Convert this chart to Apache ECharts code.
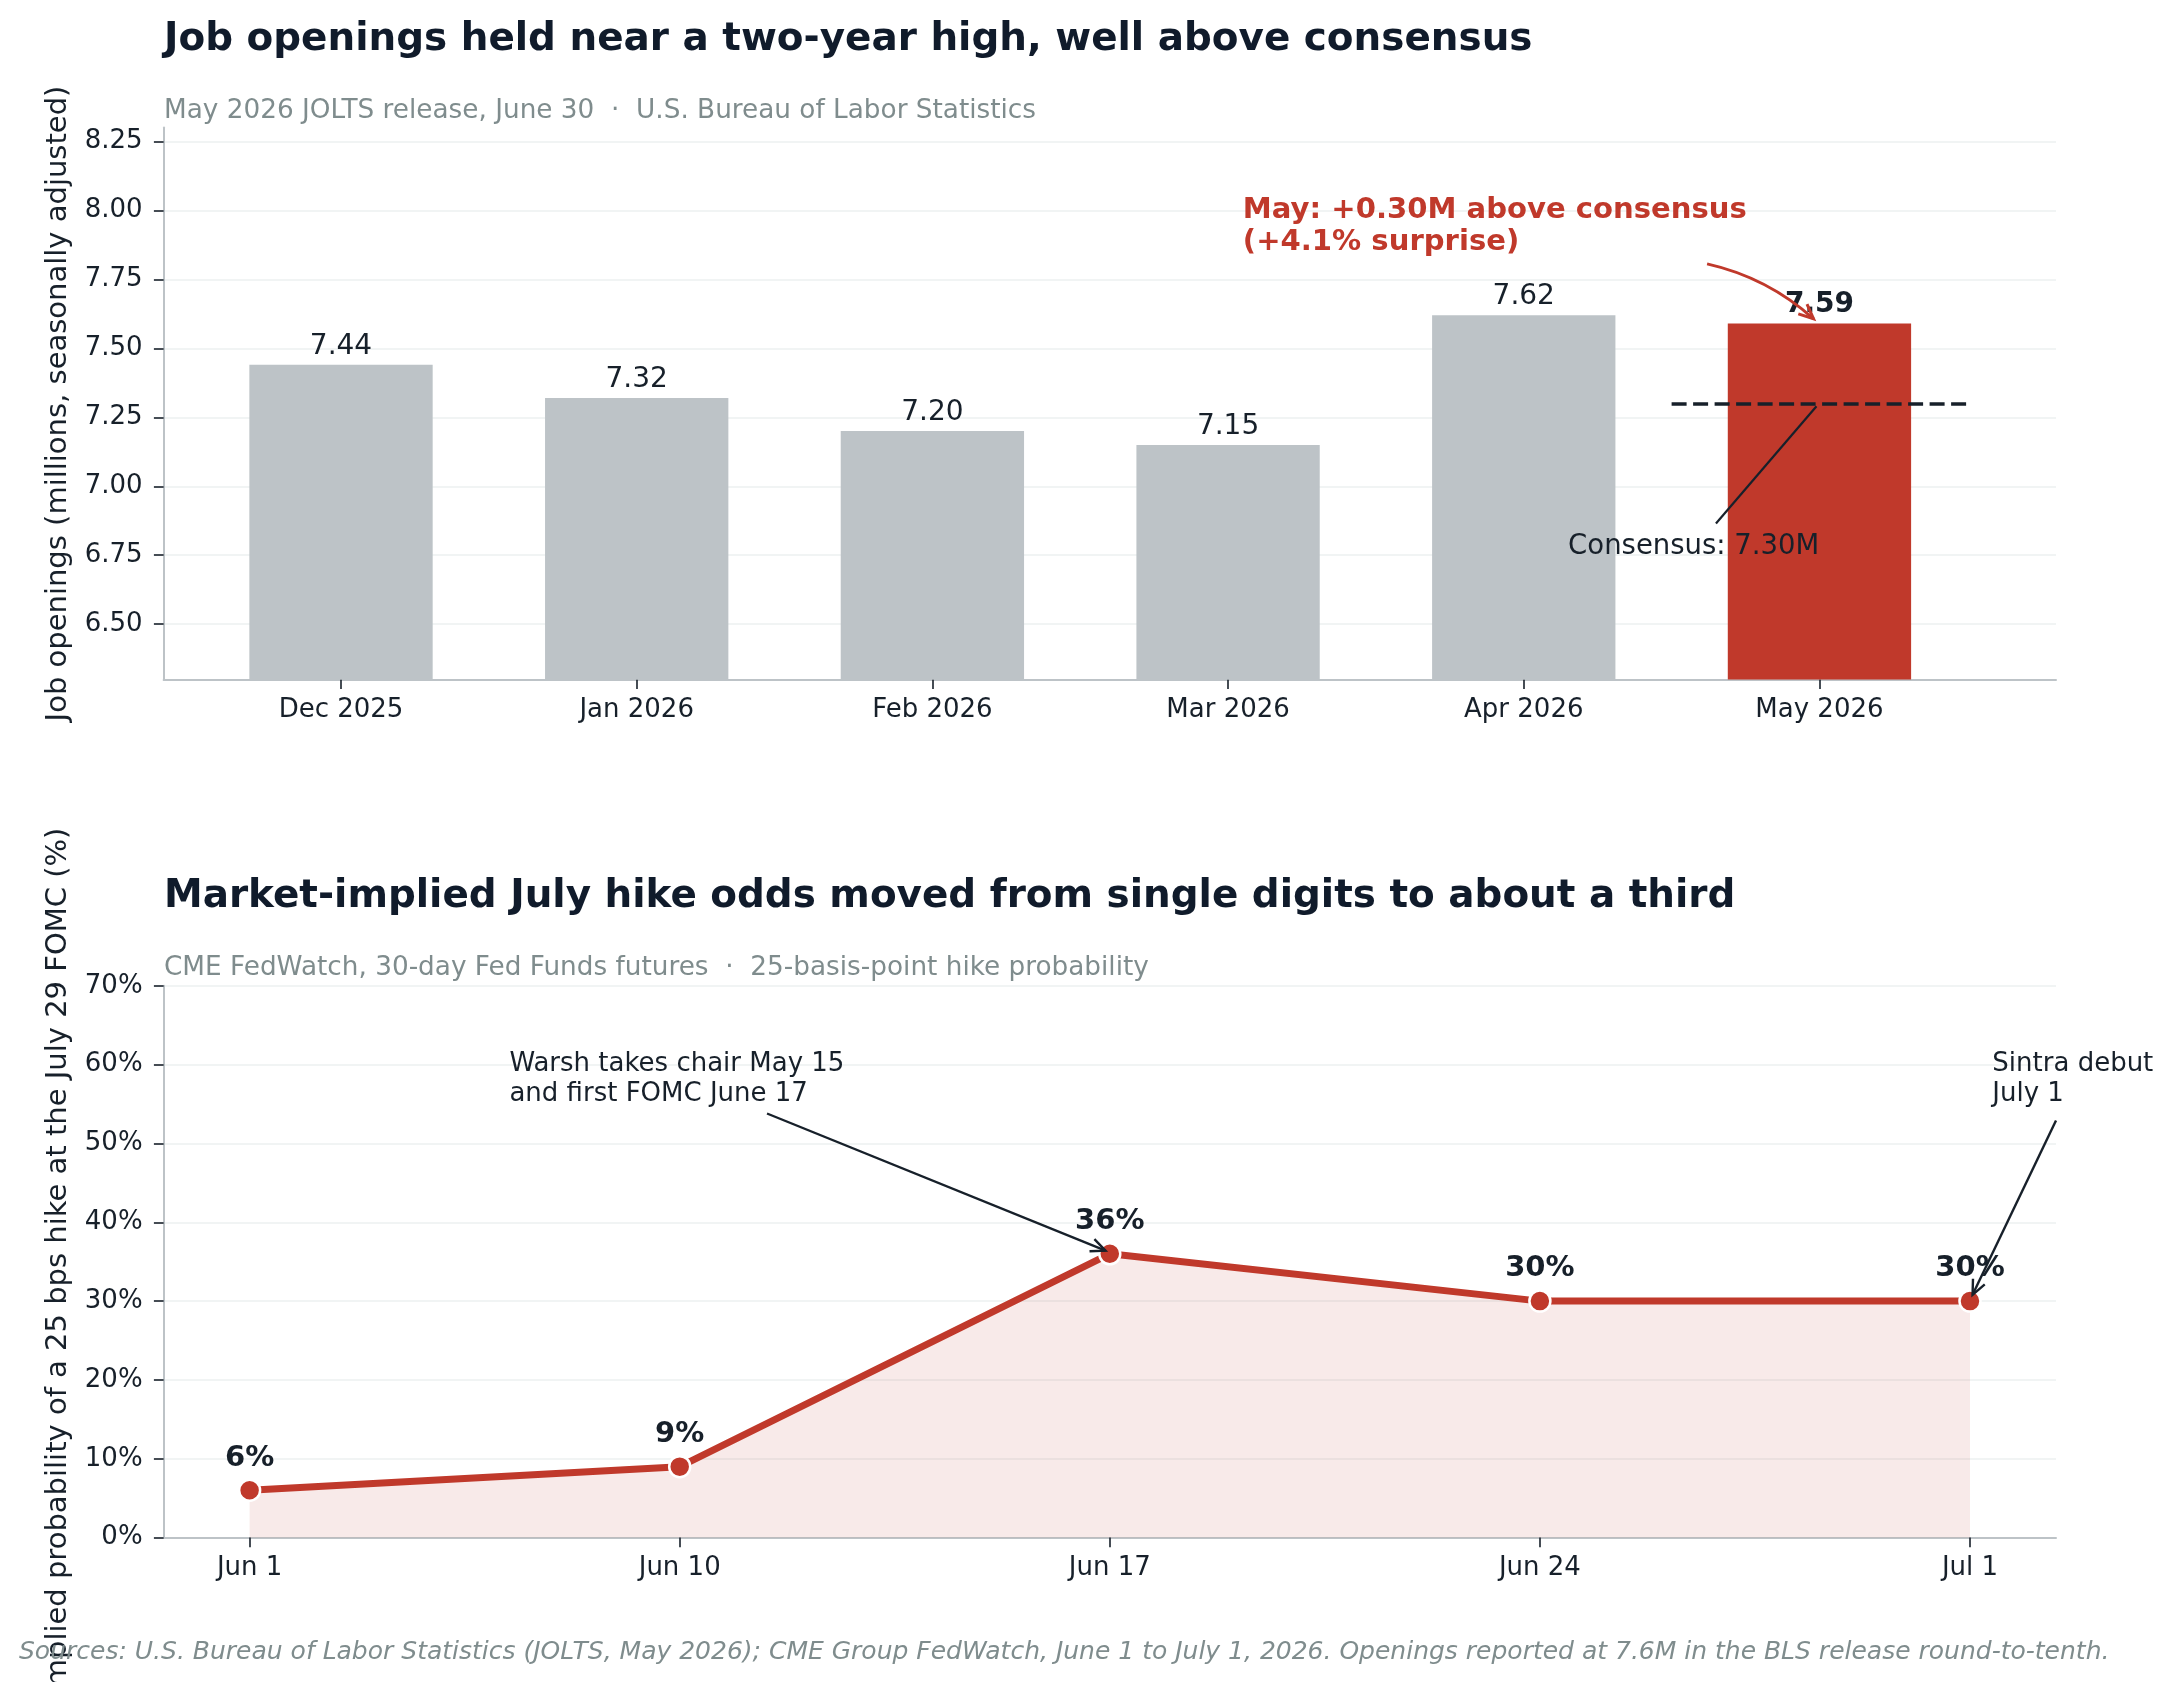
<!DOCTYPE html>
<html>
<head>
<meta charset="utf-8">
<script src="https://cdn.jsdelivr.net/npm/echarts@6/dist/echarts.min.js"></script>
<style>
  html, body { margin: 0; padding: 0; background: #fff; }
  #chart { width: 2174px; height: 1682px; }
</style>
</head>
<body>
<div id="chart"></div>
<script>
// --- data ---
const months = ['Dec 2025', 'Jan 2026', 'Feb 2026', 'Mar 2026', 'Apr 2026', 'May 2026']
const openings = [7.44, 7.32, 7.20, 7.15, 7.62, 7.59]
const consensus = 7.30
const openingTicks = [6.5, 6.75, 7.0, 7.25, 7.5, 7.75, 8.0, 8.25]
const days = ['Jun 1', 'Jun 10', 'Jun 17', 'Jun 24', 'Jul 1']
const hikeOdds = [6, 9, 36, 30, 30]

const FONT = 'DejaVu Sans'
const DARK = '#17202a'
const TITLE = '#101b2b'
const GRAY = '#7f8c8d'
const RED = '#c0392b'
const SPINE = '#bdc3c7'
const GRID = '#ecf0f1'
const TICK_SIZE = 26

const chart = echarts.init(document.getElementById('chart'))

const grids = [
  { left: 163.6, top: 127.6, width: 1892.4, height: 551.8, outerBoundsMode: 'none', containLabel: false },
  { left: 163.6, top: 985.8, width: 1892.4, height: 551.8, outerBoundsMode: 'none', containLabel: false }
]

const xBase = (gi, min, max, values, names) => ({
  type: 'value',
  gridIndex: gi,
  min: min,
  max: max,
  axisLine: { show: true, onZero: false, lineStyle: { color: SPINE, width: 2 } },
  axisTick: { show: true, customValues: values, length: 9.7, lineStyle: { color: DARK, width: 1.6 } },
  axisLabel: { customValues: values, formatter: v => names[Math.round(v)], margin: 18, fontFamily: FONT, fontSize: TICK_SIZE, color: DARK },
  splitLine: { show: false }
})

const yBase = (gi, name) => ({
  type: 'value',
  gridIndex: gi,
  name: name,
  nameLocation: 'middle',
  nameGap: 91,
  nameTextStyle: { fontFamily: FONT, fontSize: 29, color: DARK },
  axisLine: { show: true, onZero: false, lineStyle: { color: SPINE, width: 2 } },
  splitLine: { show: true, lineStyle: { color: GRID, width: 1.6 } }
})

const barWidthUnits = 0.62
const xMin0 = -0.6
const xMax0 = 5.8

const option = {
  animation: false,
  backgroundColor: '#fff',
  grid: grids,
  xAxis: [
    xBase(0, xMin0, xMax0, months.map((m, i) => i), months),
    xBase(1, -0.2, 4.2, days.map((d, i) => i), days)
  ],
  yAxis: [
    Object.assign(yBase(0, 'Job openings (millions, seasonally adjusted)'), {
      min: 6.3,
      max: 8.3,
      axisTick: { show: true, customValues: openingTicks, length: 9.7, lineStyle: { color: DARK, width: 1.6 } },
      axisLabel: { customValues: openingTicks, formatter: v => v.toFixed(2), margin: 21, fontFamily: FONT, fontSize: TICK_SIZE, color: DARK }
    }),
    Object.assign(yBase(1, 'Implied probability of a 25 bps hike at the July 29 FOMC (%)'), {
      min: 0,
      max: 70,
      interval: 10,
      axisTick: { show: true, length: 9.7, lineStyle: { color: DARK, width: 1.6 } },
      axisLabel: { formatter: '{value}%', margin: 21, fontFamily: FONT, fontSize: TICK_SIZE, color: DARK }
    })
  ],
  series: [
    {
      type: 'bar',
      xAxisIndex: 0,
      yAxisIndex: 0,
      barWidth: barWidthUnits * grids[0].width / (xMax0 - xMin0),
      data: openings.map((v, i) => {
        const last = i === openings.length - 1
        return {
          value: [i, v],
          itemStyle: { color: last ? RED : SPINE },
          label: { fontWeight: last ? 'bold' : 'normal' }
        }
      }),
      label: {
        show: true,
        position: 'top',
        distance: 4.5,
        formatter: p => p.value[1].toFixed(2),
        fontFamily: FONT,
        fontSize: 28,
        color: DARK
      },
      markLine: {
        silent: true,
        symbol: 'none',
        label: { show: false },
        lineStyle: { color: DARK, width: 3.5, type: [15, 6.5] },
        data: [[
          { coord: [openings.length - 1.5, consensus] },
          { coord: [openings.length - 0.5, consensus] }
        ]]
      }
    },
    {
      type: 'line',
      xAxisIndex: 1,
      yAxisIndex: 1,
      data: hikeOdds.map((v, i) => [i, v]),
      lineStyle: { color: RED, width: 7 },
      areaStyle: { color: 'rgba(192, 57, 43, 0.15)' },
      symbol: 'circle',
      symbolSize: 21,
      itemStyle: { color: RED, borderColor: '#fff', borderWidth: 2.5 },
      label: {
        show: true,
        position: 'top',
        distance: 6,
        formatter: p => p.value[1] + '%',
        fontFamily: FONT,
        fontSize: 29,
        fontWeight: 'bold',
        color: DARK
      },
      z: 3
    }
  ]
}

chart.setOption(option)

// --- titles, notes and arrows (placed from data coordinates) ---
const txt = (x, y, text, size, color, weight, extra) => ({
  type: 'text',
  x: x,
  y: y,
  z: 100,
  silent: true,
  style: Object.assign({
    text: text,
    fontFamily: FONT,
    fontSize: size,
    fontWeight: weight || 'normal',
    fill: color,
    align: 'left',
    verticalAlign: 'middle'
  }, extra || {})
})

const px = (gi, pt) => chart.convertToPixel({ gridIndex: gi }, pt)

function arrowHead (from, to, color, w) {
  const ang = Math.atan2(to[1] - from[1], to[0] - from[0])
  const len = 16
  const spread = 0.42
  const a = [to[0] - len * Math.cos(ang - spread), to[1] - len * Math.sin(ang - spread)]
  const b = [to[0] - len * Math.cos(ang + spread), to[1] - len * Math.sin(ang + spread)]
  return {
    type: 'polyline',
    z: 100,
    silent: true,
    shape: { points: [a, to, b] },
    style: { stroke: color, lineWidth: w, fill: null }
  }
}

function straightArrow (gi, from, to, color, w, head) {
  const p0 = px(gi, from)
  const p1 = px(gi, to)
  const els = [{
    type: 'line',
    z: 100,
    silent: true,
    shape: { x1: p0[0], y1: p0[1], x2: p1[0], y2: p1[1] },
    style: { stroke: color, lineWidth: w }
  }]
  if (head) els.push(arrowHead(p0, p1, color, w))
  return els
}

function curvedArrow (gi, from, to, rad, color, w) {
  const p0 = px(gi, from)
  const p1 = px(gi, to)
  const dx = p1[0] - p0[0]
  const dy = p1[1] - p0[1]
  const cp = [(p0[0] + p1[0]) / 2 + rad * dy, (p0[1] + p1[1]) / 2 - rad * dx]
  return [
    {
      type: 'bezierCurve',
      z: 100,
      silent: true,
      shape: { x1: p0[0], y1: p0[1], x2: p1[0], y2: p1[1], cpx1: cp[0], cpy1: cp[1] },
      style: { stroke: color, lineWidth: w, fill: null }
    },
    arrowHead(cp, p1, color, w)
  ]
}

const notes = []
notes.push(txt(164, 40, 'Job openings held near a two-year high, well above consensus', 38.9, TITLE, 'bold'))
notes.push(txt(164, 111, 'May 2026 JOLTS release, June 30  \u00b7  U.S. Bureau of Labor Statistics', 26.3, GRAY))
notes.push(txt(164, 897, 'Market-implied July hike odds moved from single digits to about a third', 38.9, TITLE, 'bold'))
notes.push(txt(164, 968, 'CME FedWatch, 30-day Fed Funds futures  \u00b7  25-basis-point hike probability', 26.3, GRAY))
notes.push(txt(19, 1652, 'Sources: U.S. Bureau of Labor Statistics (JOLTS, May 2026); CME Group FedWatch, June 1 to July 1, 2026. Openings reported at 7.6M in the BLS release round-to-tenth.', 25, GRAY, 'normal', { fontStyle: 'italic' }))

// top panel notes
let p = px(0, [3.05, 8.0])
notes.push(txt(p[0], p[1], 'May: +0.30M above consensus', 29.1, RED, 'bold'))
p = px(0, [3.05, 7.885])
notes.push(txt(p[0], p[1], '(+4.1% surprise)', 29.1, RED, 'bold'))
notes.push(...curvedArrow(0, [4.62, 7.806], [4.98, 7.607], 0.13, RED, 3))

notes.push(...straightArrow(0, [4.65, 6.865], [4.99, 7.29], DARK, 2.2, false))
p = px(0, [4.15, 6.78])
notes.push(txt(p[0], p[1], 'Consensus: 7.30M', 27.5, DARK))

// bottom panel notes
p = px(1, [0.604, 60.0])
notes.push(txt(p[0], p[1], 'Warsh takes chair May 15', 26, DARK))
p = px(1, [0.604, 56.2])
notes.push(txt(p[0], p[1], 'and first FOMC June 17', 26, DARK))
notes.push(...straightArrow(1, [1.203, 53.8], [1.99, 36.4], DARK, 2.4, true))

p = px(1, [4.052, 60.0])
notes.push(txt(p[0], p[1], 'Sintra debut', 26, DARK))
p = px(1, [4.052, 56.2])
notes.push(txt(p[0], p[1], 'July 1', 26, DARK))
notes.push(...straightArrow(1, [4.2, 52.9], [4.006, 30.8], DARK, 2.4, true))

chart.setOption({ graphic: notes })
</script>
</body>
</html>
